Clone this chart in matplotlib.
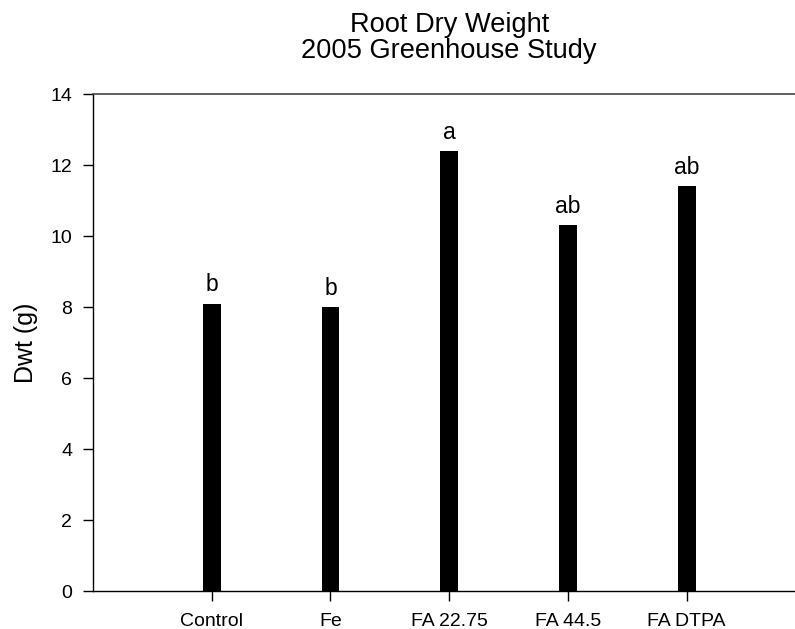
import matplotlib.pyplot as plt
import numpy as np

plt.rcParams['font.family'] = ['Liberation Sans', 'DejaVu Sans']

treatments = ["Control", "Fe", "FA 22.75", "FA 44.5", "FA DTPA"]
dwt = [8.1, 8.0, 12.4, 10.3, 11.4]
letters = ["b", "b", "a", "ab", "ab"]

fig = plt.figure(figsize=(7.95, 6.29), dpi=100)
ax = fig.add_axes([0.117, 0.0604, 0.896, 0.790])

x = np.arange(1, len(treatments) + 1)
ax.bar(x, dwt, width=0.15, color='black')

# significance letters above bars
for xi, v, l in zip(x, dwt, letters):
    ax.text(xi, v + 0.2, l, ha='center', va='bottom', fontsize=16.5)

ax.set_xlim(0, 6)
ax.set_ylim(0, 14)
ax.set_xticks(x)
ax.set_xticklabels(treatments, fontsize=14)
ax.set_yticks(np.arange(0, 15, 2))
ax.tick_params(axis='y', labelsize=14, length=7, width=1, direction='out', pad=8)
ax.tick_params(axis='x', length=7, width=1, direction='out', pad=9)

ax.spines['right'].set_visible(False)
ax.spines['top'].set_color('#444444')
ax.spines['top'].set_linewidth(1.2)
ax.spines['left'].set_linewidth(1.0)
ax.spines['bottom'].set_linewidth(1.0)

ax.set_ylabel("Dwt (g)", fontsize=18, labelpad=9)
ax.set_title("Root Dry Weight\n2005 Greenhouse Study", fontsize=19.6, pad=26, linespacing=1.0)

plt.savefig("out.png", dpi=100)
